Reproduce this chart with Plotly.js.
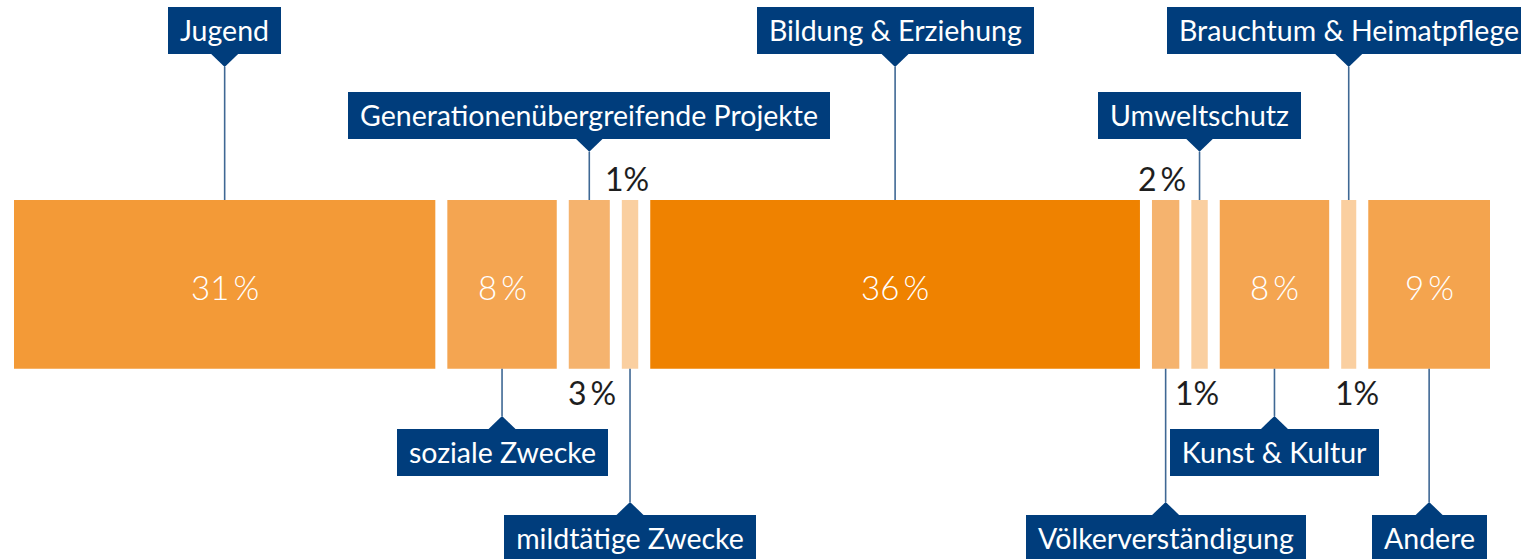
<!DOCTYPE html>
<html><head><meta charset="utf-8">
<script src="https://cdn.plot.ly/plotly-3.0.1.min.js"></script>
<style>html,body{margin:0;padding:0;background:#fff;overflow:hidden}#chart{width:1521px;height:559px;}</style>
</head><body><div id="chart"></div>
<script>
// ---- data ----
const categories = ["Jugend", "soziale Zwecke", "Generationenübergreifende Projekte", "mildtätige Zwecke",
  "Bildung & Erziehung", "Völkerverständigung", "Umweltschutz", "Kunst & Kultur",
  "Brauchtum & Heimatpflege", "Andere"];
const shares = [30.8, 8.0, 3.0, 1.2, 35.8, 2.0, 1.2, 8.0, 1.1, 8.9];
const shareLabels = ["31\u2009%", "8\u2009%", "3\u2009%", "1%", "36\u2009%", "2\u2009%", "1%", "8\u2009%", "1%", "9\u2009%"];

// ---- styling / placement (not data) ----
const barColors = ["#F39A37", "#F4A551", "#F5B36E", "#FACFA0", "#EF8200", "#F5B36E", "#FACFA0", "#F4A551", "#FACFA0", "#F4A44E"];
const labelSide  = ["top", "bottom", "top", "bottom", "top", "bottom", "top", "bottom", "top", "bottom"];
const labelLevel = [1, 1, 2, 2, 1, 2, 2, 1, 1, 2];
const pctPlace   = ["inside", "inside", "below", "above", "inside", "above", "below", "inside", "below", "inside"];
const pctShift   = [0, 0, 3, -3, 0, -4, -3, 0, 8, 0];

const FONT = "Lato, 'Open Sans', sans-serif";
const gap = 0.878;
const barTop = 200, barBottom = 368.7;
const boxH = 46.5, boxPadX = 12, labelFont = 28.5;
const boxCenters = { top: {1: 30.7, 2: 115.5}, bottom: {1: 452.2, 2: 538.2} };
const triH = 13.5, triW = 14;

// bases
const bases = [];
let acc = 0;
shares.forEach((v, i) => { bases.push(acc); acc += v + gap; });
const total = acc - gap;
const leftPx = 14, rightPx = 1490, W = 1521;
const k = (rightPx - leftPx) / total;
const xRange = [-leftPx / k, (W - leftPx) / k];
const centers = shares.map((v, i) => bases[i] + v / 2);

// text measurement for label boxes
const ctx = document.createElement("canvas").getContext("2d");
ctx.font = labelFont + "px Lato";
const textW = t => ctx.measureText(t).width;

const barY = (barTop + barBottom) / 2;
const trace = {
  type: "bar", orientation: "h",
  x: shares, base: bases, y: shares.map(() => barY),
  width: barBottom - barTop,
  marker: { color: barColors, line: { width: 0 } },
  hoverinfo: "skip", showlegend: false
};

const shapes = [];
const annotations = [];
categories.forEach((c, i) => {
  const side = labelSide[i], lvl = labelLevel[i];
  const cy = boxCenters[side][lvl];
  const cx = centers[i];
  // box label
  annotations.push({
    x: cx, y: cy, xref: "x", yref: "y", text: c, showarrow: false,
    xanchor: "center", yanchor: "middle",
    width: Math.round(textW(c) + 2 * boxPadX), height: boxH,
    bgcolor: "#003D7C", borderpad: 0, borderwidth: 0,
    font: { family: FONT, size: labelFont, color: "#ffffff" }
  });
  // pointer triangle + line
  let edge, tip, lineEnd;
  if (side === "top") {
    edge = cy + boxH / 2 - 0.5; tip = edge + triH; lineEnd = barTop;
  } else {
    edge = cy - boxH / 2 + 0.5; tip = edge - triH; lineEnd = barBottom;
  }
  shapes.push({
    type: "path", xref: "x", yref: "y", xsizemode: "pixel", xanchor: cx,
    path: `M ${-triW} ${edge} L ${triW} ${edge} L 0 ${tip} Z`,
    fillcolor: "#003D7C", line: { width: 0 }, layer: "above"
  });
  shapes.push({
    type: "line", xref: "x", yref: "y", x0: cx, x1: cx, y0: tip, y1: lineEnd,
    line: { color: "#3F6894", width: 1.6 }, layer: "above"
  });
  // percent label
  const place = pctPlace[i];
  if (place === "inside") {
    annotations.push({
      x: cx, y: 287, xref: "x", yref: "y", text: shareLabels[i], showarrow: false,
      xanchor: "center", yanchor: "middle",
      font: { family: FONT, size: 33, color: "#ffffff", weight: 300 }
    });
  } else {
    annotations.push({
      x: cx, y: place === "above" ? 178.6 : 392.5, xref: "x", yref: "y", xshift: pctShift[i],
      text: shareLabels[i], showarrow: false, xanchor: "center", yanchor: "middle",
      font: { family: FONT, size: 32, color: "#1E1E1E" }
    });
  }
});

const layout = {
  width: 1521, height: 559,
  margin: { l: 0, r: 0, t: 0, b: 0, pad: 0 },
  paper_bgcolor: "#ffffff", plot_bgcolor: "#ffffff",
  xaxis: { range: xRange, visible: false, fixedrange: true },
  yaxis: { range: [559, 0], visible: false, fixedrange: true },
  barmode: "overlay", showlegend: false,
  shapes: shapes, annotations: annotations
};

Plotly.newPlot("chart", [trace], layout, { displayModeBar: false, staticPlot: true });
</script>
</body></html>
